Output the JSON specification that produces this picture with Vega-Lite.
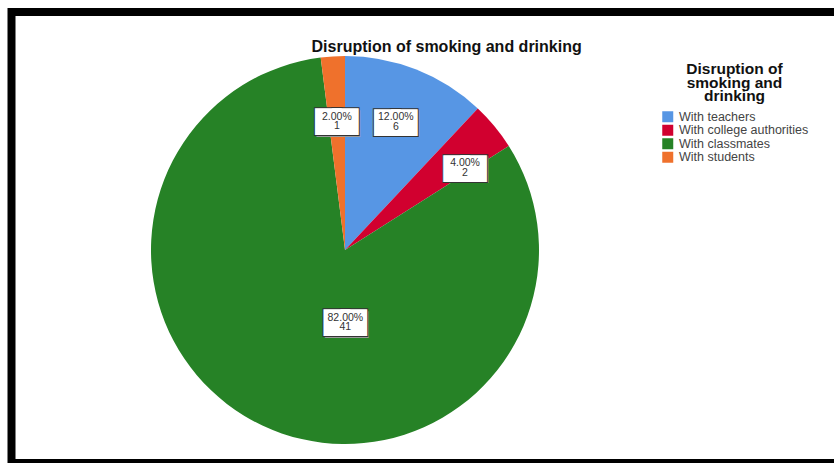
{
  "$schema": "https://vega.github.io/schema/vega-lite/v6.json",
  "autosize": "none",
  "width": 900,
  "height": 451,
  "padding": {"left": 11.5, "top": 12, "right": 0, "bottom": 0},
  "background": "white",
  "config": {
    "view": {"stroke": null},
    "font": "Liberation Sans"
  },
  "title": {
    "text": "Disruption of smoking and drinking",
    "anchor": "start",
    "dx": 304,
    "offset": -47,
    "fontSize": 16,
    "fontWeight": "bold",
    "color": "#111111",
    "font": "Liberation Sans"
  },
  "data": {
    "values": [
      {"group": "With teachers", "count": 6, "pct": 0.12, "ord": 1},
      {"group": "With college authorities", "count": 2, "pct": 0.04, "ord": 2},
      {"group": "With classmates", "count": 41, "pct": 0.82, "ord": 3},
      {"group": "With students", "count": 1, "pct": 0.02, "ord": 4}
    ]
  },
  "layer": [
    {
      "data": {"values": [{}]},
      "mark": {"type": "rect", "fill": "white", "stroke": "black", "strokeWidth": 8},
      "encoding": {}
    },
    {
      "mark": {"type": "arc", "x": 333.5, "y": 238, "outerRadius": 194},
      "encoding": {
        "theta": {"field": "count", "type": "quantitative", "stack": true},
        "order": {"field": "ord", "type": "quantitative"},
        "color": {
          "field": "group",
          "type": "nominal",
          "scale": {
            "domain": ["With teachers", "With college authorities", "With classmates", "With students"],
            "range": ["#5796e4", "#d1002f", "#268226", "#ef712c"]
          },
          "legend": {
            "title": ["Disruption of", "smoking and", "drinking"],
            "orient": "none",
            "legendX": 650,
            "legendY": 50,
            "titleFontSize": 15.5,
            "titleFont": "Liberation Sans",
            "titleFontWeight": "bold",
            "titleColor": "#111111",
            "titleAlign": "center",
            "titleAnchor": "middle",
            "titleLineHeight": 13.5,
            "titlePadding": 6,
            "labelFontSize": 12.5,
            "labelColor": "#444444",
            "labelFont": "Liberation Sans",
            "labelOffset": 5,
            "symbolType": "square",
            "symbolSize": 121,
            "symbolStrokeWidth": 0,
            "rowPadding": 0.5
          }
        }
      }
    },
    {
      "mark": {"type": "text", "x": 333.5, "y": 238, "text": "■", "font": "DejaVu Sans", "fontSize": 35, "fill": "#9a9a9a", "baseline": "middle",
        "radius": {"expr": "datum.count > 20 ? 72 : datum.count == 1 ? 129 : datum.count == 2 ? 135 : 138"},
        "dx": {"expr": "(datum.count > 20 ? 31 : datum.count == 2 ? 16 : 0) - 8.5 + 1.5"},
        "dy": {"expr": "(datum.count > 20 ? 7 : datum.count == 2 ? 4 : 0) + 0.5"}},
      "encoding": {"theta": {"field": "count", "type": "quantitative", "stack": true}, "order": {"field": "ord", "type": "quantitative"}}
    },
    {
      "mark": {"type": "text", "x": 333.5, "y": 238, "text": "■", "font": "DejaVu Sans", "fontSize": 35, "fill": "#9a9a9a", "baseline": "middle",
        "radius": {"expr": "datum.count > 20 ? 72 : datum.count == 1 ? 129 : datum.count == 2 ? 135 : 138"},
        "dx": {"expr": "(datum.count > 20 ? 31 : datum.count == 2 ? 16 : 0) + 8.5 + 1.5"},
        "dy": {"expr": "(datum.count > 20 ? 7 : datum.count == 2 ? 4 : 0) + 0.5"}},
      "encoding": {"theta": {"field": "count", "type": "quantitative", "stack": true}, "order": {"field": "ord", "type": "quantitative"}}
    },
    {
      "mark": {"type": "text", "x": 333.5, "y": 238, "text": "■", "font": "DejaVu Sans", "fontSize": 35, "fill": "white", "stroke": "#333333", "strokeWidth": 2, "baseline": "middle",
        "radius": {"expr": "datum.count > 20 ? 72 : datum.count == 1 ? 129 : datum.count == 2 ? 135 : 138"},
        "dx": {"expr": "(datum.count > 20 ? 31 : datum.count == 2 ? 16 : 0) - 8.5"},
        "dy": {"expr": "(datum.count > 20 ? 7 : datum.count == 2 ? 4 : 0) - 1"}},
      "encoding": {"theta": {"field": "count", "type": "quantitative", "stack": true}, "order": {"field": "ord", "type": "quantitative"}}
    },
    {
      "mark": {"type": "text", "x": 333.5, "y": 238, "text": "■", "font": "DejaVu Sans", "fontSize": 35, "fill": "white", "stroke": "#333333", "strokeWidth": 2, "baseline": "middle",
        "radius": {"expr": "datum.count > 20 ? 72 : datum.count == 1 ? 129 : datum.count == 2 ? 135 : 138"},
        "dx": {"expr": "(datum.count > 20 ? 31 : datum.count == 2 ? 16 : 0) + 8.5"},
        "dy": {"expr": "(datum.count > 20 ? 7 : datum.count == 2 ? 4 : 0) - 1"}},
      "encoding": {"theta": {"field": "count", "type": "quantitative", "stack": true}, "order": {"field": "ord", "type": "quantitative"}}
    },
    {
      "mark": {"type": "text", "x": 333.5, "y": 238, "text": "■", "font": "DejaVu Sans", "fontSize": 35, "fill": "white", "baseline": "middle",
        "radius": {"expr": "datum.count > 20 ? 72 : datum.count == 1 ? 129 : datum.count == 2 ? 135 : 138"},
        "dx": {"expr": "(datum.count > 20 ? 31 : datum.count == 2 ? 16 : 0) - 8.5"},
        "dy": {"expr": "(datum.count > 20 ? 7 : datum.count == 2 ? 4 : 0) - 1"}},
      "encoding": {"theta": {"field": "count", "type": "quantitative", "stack": true}, "order": {"field": "ord", "type": "quantitative"}}
    },
    {
      "mark": {"type": "text", "x": 333.5, "y": 238, "text": "■", "font": "DejaVu Sans", "fontSize": 35, "fill": "white", "baseline": "middle",
        "radius": {"expr": "datum.count > 20 ? 72 : datum.count == 1 ? 129 : datum.count == 2 ? 135 : 138"},
        "dx": {"expr": "(datum.count > 20 ? 31 : datum.count == 2 ? 16 : 0) + 8.5"},
        "dy": {"expr": "(datum.count > 20 ? 7 : datum.count == 2 ? 4 : 0) - 1"}},
      "encoding": {"theta": {"field": "count", "type": "quantitative", "stack": true}, "order": {"field": "ord", "type": "quantitative"}}
    },
    {
      "mark": {"type": "text", "x": 333.5, "y": 238, "font": "Liberation Sans", "fontSize": 10.5, "color": "#333333", "baseline": "middle",
        "radius": {"expr": "datum.count > 20 ? 72 : datum.count == 1 ? 129 : datum.count == 2 ? 135 : 138"},
        "dx": {"expr": "(datum.count > 20 ? 31 : datum.count == 2 ? 16 : 0)"},
        "dy": {"expr": "(datum.count > 20 ? 7 : datum.count == 2 ? 4 : 0) - 4.5"}},
      "encoding": {"theta": {"field": "count", "type": "quantitative", "stack": true}, "order": {"field": "ord", "type": "quantitative"},
        "text": {"field": "pct", "type": "quantitative", "format": ".2%"}}
    },
    {
      "mark": {"type": "text", "x": 333.5, "y": 238, "font": "Liberation Sans", "fontSize": 10.5, "color": "#333333", "baseline": "middle",
        "radius": {"expr": "datum.count > 20 ? 72 : datum.count == 1 ? 129 : datum.count == 2 ? 135 : 138"},
        "dx": {"expr": "(datum.count > 20 ? 31 : datum.count == 2 ? 16 : 0)"},
        "dy": {"expr": "(datum.count > 20 ? 7 : datum.count == 2 ? 4 : 0) + 5"}},
      "encoding": {"theta": {"field": "count", "type": "quantitative", "stack": true}, "order": {"field": "ord", "type": "quantitative"},
        "text": {"field": "count", "type": "quantitative"}}
    }
  ]
}
